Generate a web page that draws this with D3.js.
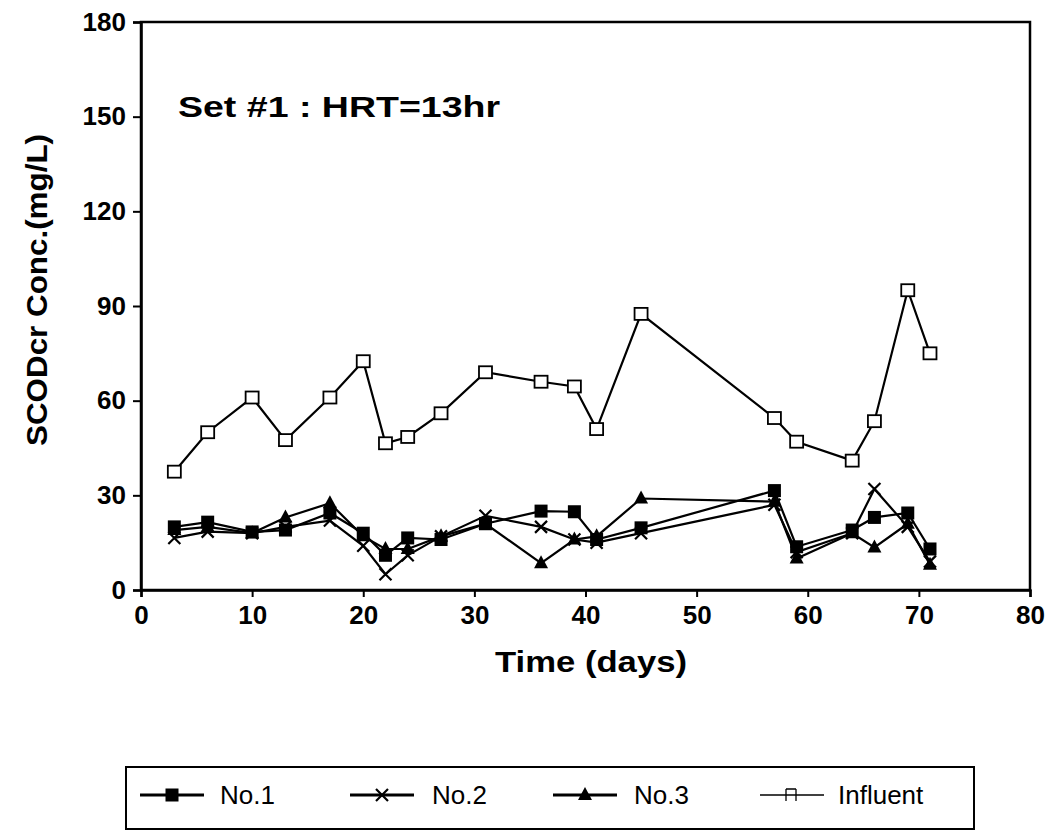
<!DOCTYPE html>
<meta charset="utf-8">
<html>
<head>
<script src="https://d3js.org/d3.v7.min.js"></script>
<style>
  body { margin: 0; background: #fff; }
  svg text { font-family: "Liberation Sans", Arial, sans-serif; }
</style>
</head>
<body>
<script>
// sampling days (shared by all series)
var days = [3, 6, 10, 13, 17, 20, 22, 24, 27, 31, 36, 39, 41, 45, 57, 59, 64, 66, 69, 71];

var no1      = [20, 21.5, 18.4, 19, 24.4, 18, 11, 16.5, 16, 21, 25, 24.8, 16, 19.7, 31.5, 13.7, 19, 23, 24.4, 13];
var no2      = [16.5, 18.5, 18, 20, 22, 14, 5, 11, 17, 23.5, 20, 16, 15, 18, 27, 12, 18, 32, 20, 9];
var no3      = [19, 20, 18, 23, 27.5, 17, 13, 13, 17, 21, 8.5, 16, 17, 29, 28, 10, 18, 13.5, 21, 8];
var influent = [37.5, 50, 61, 47.5, 61, 72.5, 46.5, 48.5, 56, 69, 66, 64.5, 51, 87.5, 54.5, 47, 41, 53.5, 95, 75];

var seriesNames = ["No.1", "No.2", "No.3", "Influent"];
var xTicks = [0, 10, 20, 30, 40, 50, 60, 70, 80];
var yTicks = [0, 30, 60, 90, 120, 150, 180];

var W = 1046, H = 831;
var margin = {left: 141, right: 16, top: 22, bottom: 241};

var svg = d3.select("body").append("svg")
  .attr("width", W)
  .attr("height", H);

var x = d3.scaleLinear().domain([0, 80]).range([margin.left, W - margin.right]);
var y = d3.scaleLinear().domain([0, 180]).range([H - margin.bottom, margin.top]);

// frame
svg.append("rect")
  .attr("x", x(0)).attr("y", y(180))
  .attr("width", x(80) - x(0)).attr("height", y(0) - y(180))
  .attr("fill", "none").attr("stroke", "#000").attr("stroke-width", 2.5);

var xAxis = svg.append("g")
  .attr("transform", "translate(0," + y(0) + ")")
  .call(d3.axisBottom(x).tickValues(xTicks).tickSize(7).tickPadding(9));
var yAxis = svg.append("g")
  .attr("transform", "translate(" + x(0) + ",0)")
  .call(d3.axisLeft(y).tickValues(yTicks).tickSize(8).tickPadding(7));

[xAxis, yAxis].forEach(function(a) {
  a.select(".domain").attr("stroke-width", 2.5);
  a.selectAll(".tick line").attr("stroke-width", 2);
  a.selectAll("text")
    .attr("font-size", 26).attr("font-weight", "bold")
    .attr("font-family", "'Liberation Sans', Arial, sans-serif")
    .attr("fill", "#000");
});

// axis titles
svg.append("text")
  .attr("x", 591).attr("y", 672)
  .attr("text-anchor", "middle")
  .attr("font-size", 30).attr("font-weight", "bold")
  .attr("textLength", 192).attr("lengthAdjust", "spacingAndGlyphs")
  .text("Time (days)");

svg.append("text")
  .attr("transform", "translate(47,290) rotate(-90)")
  .attr("text-anchor", "middle")
  .attr("font-size", 29).attr("font-weight", "bold")
  .attr("textLength", 312).attr("lengthAdjust", "spacingAndGlyphs")
  .text("SCODcr Conc.(mg/L)");

svg.append("text")
  .attr("x", 178).attr("y", 117)
  .attr("font-size", 30).attr("font-weight", "bold")
  .attr("textLength", 322).attr("lengthAdjust", "spacingAndGlyphs")
  .text("Set #1 : HRT=13hr");

// markers
function drawMarker(g, kind, cx, cy) {
  if (kind === "No.1") {
    g.append("rect").attr("x", cx - 6.5).attr("y", cy - 6.5)
      .attr("width", 13).attr("height", 13).attr("fill", "#000");
  } else if (kind === "No.2") {
    g.append("path")
      .attr("d", "M" + (cx - 6) + "," + (cy - 6) + "L" + (cx + 6) + "," + (cy + 6) +
                 "M" + (cx - 6) + "," + (cy + 6) + "L" + (cx + 6) + "," + (cy - 6))
      .attr("stroke", "#000").attr("stroke-width", 2.2);
  } else if (kind === "No.3") {
    g.append("path")
      .attr("d", "M" + cx + "," + (cy - 8) + "L" + (cx + 7) + "," + (cy + 5) + "L" + (cx - 7) + "," + (cy + 5) + "Z")
      .attr("fill", "#000");
  } else {
    g.append("rect").attr("x", cx - 6.5).attr("y", cy - 6).attr("width", 13).attr("height", 12)
      .attr("fill", "#fff").attr("stroke", "#000").attr("stroke-width", 1.8);
  }
}

var allSeries = [
  {name: "Influent", values: influent},
  {name: "No.3", values: no3},
  {name: "No.2", values: no2},
  {name: "No.1", values: no1}
];

var line = d3.line()
  .x(function(d) { return x(d[0]); })
  .y(function(d) { return y(d[1]); });

allSeries.forEach(function(s) {
  var pts = days.map(function(d, i) { return [d, s.values[i]]; });
  var g = svg.append("g");
  g.append("path")
    .attr("d", line(pts))
    .attr("fill", "none").attr("stroke", "#000").attr("stroke-width", 2.2);
  pts.forEach(function(p) { drawMarker(g, s.name, x(p[0]), y(p[1])); });
});

// legend
var leg = svg.append("g");
leg.append("rect")
  .attr("x", 126).attr("y", 767).attr("width", 848).attr("height", 62)
  .attr("fill", "#fff").attr("stroke", "#000").attr("stroke-width", 2);

var legX = [140, 350, 553, 760];
var legTextX = [220, 432, 634, 838];
seriesNames.forEach(function(n, i) {
  var lx = legX[i], ly = 795;
  var g = leg.append("g");
  g.append("line").attr("x1", lx).attr("x2", lx + 64).attr("y1", ly).attr("y2", ly)
    .attr("stroke", "#000").attr("stroke-width", n === "Influent" ? 1.5 : 3);
  if (n === "Influent") {
    g.append("path")
      .attr("d", "M" + (lx + 26) + "," + (ly - 6) + "L" + (lx + 26) + "," + (ly + 6) +
                 "M" + (lx + 36) + "," + (ly - 6) + "L" + (lx + 36) + "," + (ly + 6) +
                 "M" + (lx + 26) + "," + (ly - 6) + "L" + (lx + 36) + "," + (ly - 6))
      .attr("stroke", "#000").attr("stroke-width", 1.3).attr("fill", "none");
  } else {
    drawMarker(g, n, lx + 32, ly);
  }
  g.append("text")
    .attr("x", legTextX[i]).attr("y", ly + 9)
    .attr("font-size", 26)
    .text(n);
});
</script>
</body>
</html>
